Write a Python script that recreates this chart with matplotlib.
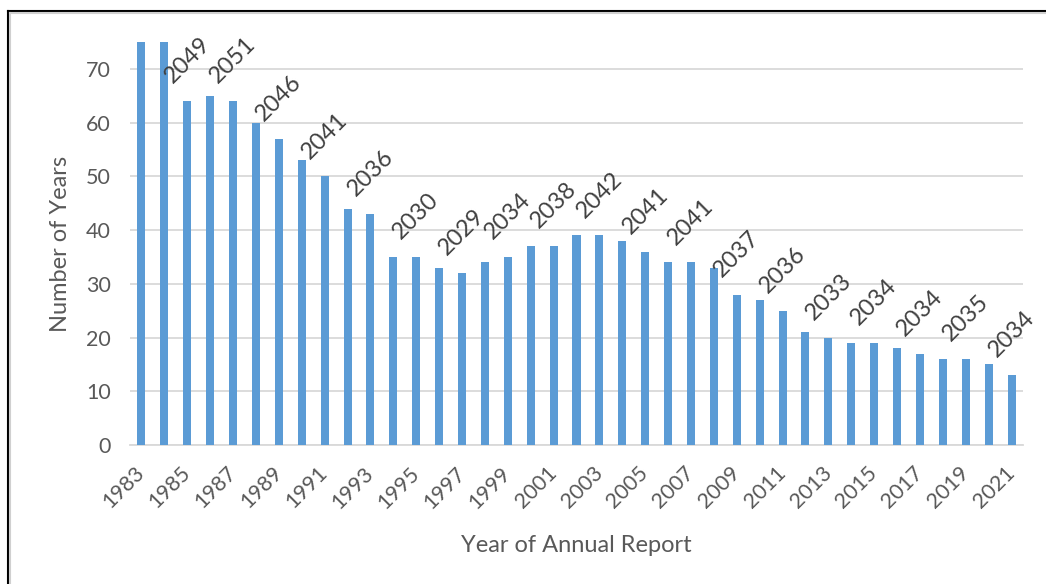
import matplotlib
matplotlib.use("Agg")
import matplotlib.pyplot as plt
from matplotlib.lines import Line2D

years = list(range(1983, 2022))
num_years = [75, 75, 64, 65, 64, 60, 57, 53, 50, 44, 43, 35, 35, 33, 32, 34, 35, 37, 37,
             39, 39, 38, 36, 34, 34, 33, 28, 27, 25, 21, 20, 19, 19, 18, 17, 16, 16, 15, 13]
tick_labels = [str(y) if (y - 1983) % 2 == 0 else "" for y in years]
# data labels (depletion year = report year + number of years) on odd-year bars from 1985
label_years = list(range(1985, 2022, 2))

plt.rcParams['font.family'] = ['Lato', 'DejaVu Sans']

fig = plt.figure(figsize=(10.46, 5.84), dpi=100)
ax = fig.add_axes([130/1046, 1-445/584, (1023-130)/1046, (445-42)/584])

blue = '#5B9BD5'
tick_col = '#595959'
x = list(range(len(years)))
ax.bar(x, num_years, width=0.35, color=blue, zorder=3)

ax.set_xlim(-0.5, len(years) - 0.5)
ax.set_ylim(0, 75)
ax.set_yticks(range(0, 80, 10))
ax.yaxis.grid(True, color='#D9D9D9', linewidth=1.3, zorder=0)
for s in ['top', 'right', 'left']:
    ax.spines[s].set_visible(False)
ax.spines['bottom'].set_color('#D9D9D9')
ax.spines['bottom'].set_linewidth(1.3)

ax.set_xticks(x)
ax.set_xticklabels(tick_labels, rotation=45, ha='right', rotation_mode='anchor', va='center')
ax.tick_params(axis='x', length=0, pad=18, labelsize=15.5, labelcolor=tick_col)
ax.tick_params(axis='y', length=0, pad=14, labelsize=15.5, labelcolor=tick_col)

ax.set_ylabel('Number of Years', fontsize=17, color=tick_col)
ax.yaxis.set_label_coords(-0.066, 0.5)
ax.set_xlabel('Year of Annual Report', fontsize=17, color=tick_col, labelpad=16)

for ly in label_years:
    i = years.index(ly)
    v = num_years[i]
    ax.annotate(str(ly + v), xy=(i, v), xytext=(0, 10), textcoords='offset points',
                rotation=45, ha='center', va='bottom', fontsize=17, color='#404040',
                zorder=4, annotation_clip=False)

# figure frame (top and left border)
fig.add_artist(Line2D([8/1046, 1.0], [1-11/584, 1-11/584], transform=fig.transFigure,
                      color='black', linewidth=1.5))
fig.add_artist(Line2D([8/1046, 8/1046], [0, 1-11/584], transform=fig.transFigure,
                      color='black', linewidth=1.5))
fig.add_artist(Line2D([10/1046, 1.0], [1-13/584, 1-13/584], transform=fig.transFigure,
                      color='#D0D0D0', linewidth=1.5))
fig.add_artist(Line2D([10/1046, 10/1046], [0, 1-13/584], transform=fig.transFigure,
                      color='#D0D0D0', linewidth=1.5))

fig.savefig('out.png', dpi=100)
